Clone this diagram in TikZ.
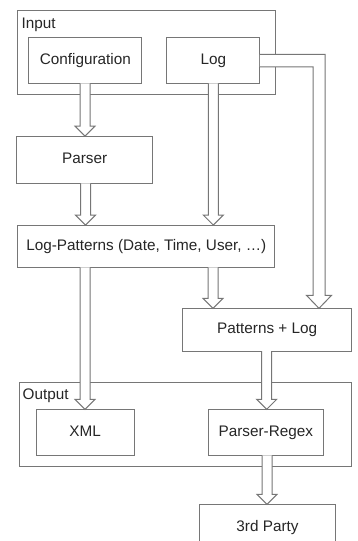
\documentclass[tikz,border=0pt]{standalone}
\usepackage{fontspec}
\setmainfont{Liberation Sans}
\usetikzlibrary{calc}
\definecolor{ln}{RGB}{118,118,118}
\definecolor{tx}{RGB}{38,38,38}
\tikzset{
  box/.style={draw=ln, line width=1pt, fill=white, text=tx, inner sep=0pt, outer sep=0pt,
    font=\fontsize{15.3}{18}\selectfont, text height=11pt, text depth=3pt},
  frame/.style={draw=ln, line width=1pt, inner sep=0pt, outer sep=0pt},
  lbl/.style={text=tx, inner sep=0pt, font=\fontsize{15.3}{18}\selectfont, anchor=base west},
  blk/.style={draw=ln, line width=1pt, fill=white, line join=miter}
}
% down block arrow at x=#1 from node #2 (south) to node #3 (north)
\newcommand\blkdown[3]{%
  \draw[blk] let \p1=(#2.south), \p2=(#3.north) in
    (#1pt-5pt,\y1) -- (#1pt-5pt,\y2+10pt) -- (#1pt-10pt,\y2+10pt) -- (#1pt,\y2)
    -- (#1pt+10pt,\y2+10pt) -- (#1pt+5pt,\y2+10pt) -- (#1pt+5pt,\y1);}
\begin{document}
\begin{tikzpicture}[x=1pt,y=-1pt]
\useasboundingbox (0,0) rectangle (358,541);
\clip (0,0) rectangle (358,541);
% frames
\node[frame, minimum width=257.7pt, minimum height=84.3pt] (inframe) at (146.2,52.8) {};
\node[lbl] (inlbl) at (21.5,28.3) {Input};
\node[frame, minimum width=332.4pt, minimum height=83.7pt] (outframe) at (185.5,424.2) {};
\node[lbl] (outlbl) at (22.5,399.3) {Output};
% boxes
\node[box, minimum width=112.7pt, minimum height=46pt] (conf) at (85.3,60.3) {Configuration};
\node[box, minimum width=93.3pt, minimum height=46pt] (log) at (213.3,60.3) {Log};
\node[box, minimum width=136pt, minimum height=47.3pt] (parser) at (84.7,159.7) {Parser};
\node[box, minimum width=257.3pt, minimum height=42.3pt] (lp) at (146.3,246.2) {Log-Patterns (Date, Time, User, …)};
\node[box, minimum width=169pt, minimum height=42.7pt] (pl) at (267.2,329.7) {Patterns + Log};
\node[box, minimum width=98.3pt, minimum height=46pt] (xml) at (85.2,432.3) {XML};
\node[box, minimum width=115pt, minimum height=46pt] (pr) at (265.8,432.3) {Parser-Regex};
\node[box, minimum width=136.4pt, minimum height=46pt] (third) at (267.5,527.3) {3rd Party};
% arrows
\blkdown{85}{conf}{parser}
\blkdown{213.3}{log}{lp}
\blkdown{85.5}{parser}{lp}
\blkdown{213}{lp}{pl}
\blkdown{85}{lp}{xml}
\blkdown{266.7}{pl}{pr}
\blkdown{267}{pr}{third}
\draw[blk] let \p1=(log.east), \p2=(pl.north) in
  (\x1,\y1+6pt) -- (325pt,\y1+6pt) -- (325pt,\y2+13pt) -- (331.5pt,\y2+13pt)
  -- (319pt,\y2) -- (306.5pt,\y2+13pt) -- (313pt,\y2+13pt) -- (313pt,\y1-6.5pt) -- (\x1,\y1-6.5pt);
\end{tikzpicture}
\end{document}
